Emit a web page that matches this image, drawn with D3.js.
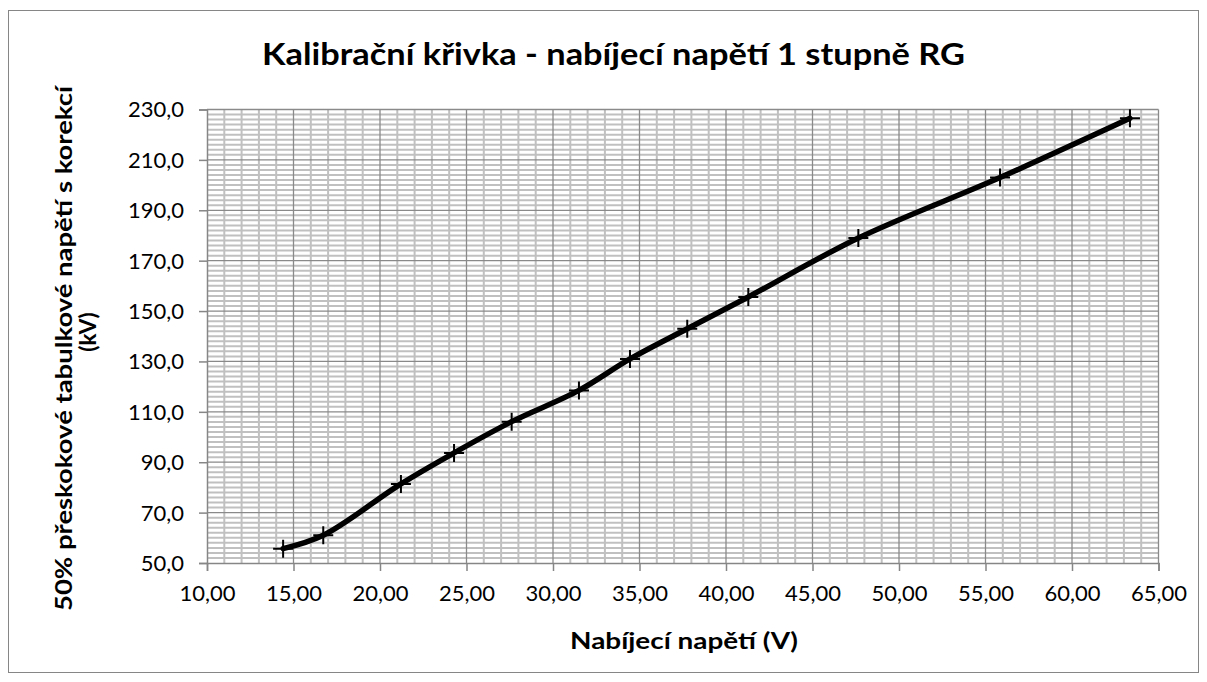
<!DOCTYPE html>
<html>
<head>
<meta charset="utf-8">
<script src="https://cdn.jsdelivr.net/npm/d3@7"></script>
<style>
  html, body { margin: 0; padding: 0; background: #fff; }
  svg { display: block; }
  text { font-family: Lato, "Open Sans", sans-serif; fill: #000; }
</style>
</head>
<body>
<script>
// Charging voltage of the 1st generator stage (V)
const chargeVoltage = [14.40, 16.72, 21.21, 24.28, 27.61, 31.50, 34.45, 37.76, 41.29, 47.65, 55.84, 63.35];
// 50% tabulated flashover voltage with correction (kV)
const flashoverKV = [55.7, 61.0, 81.4, 93.7, 106.1, 118.5, 131.0, 143.0, 155.6, 179.0, 203.0, 226.5];

const xTicks = [10, 15, 20, 25, 30, 35, 40, 45, 50, 55, 60, 65];
const yTicks = [50, 70, 90, 110, 130, 150, 170, 190, 210, 230];

const titleText = "Kalibrační křivka - nabíjecí napětí 1 stupně RG";
const xTitleText = "Nabíjecí napětí (V)";
const yTitleLines = ["50% přeskokové tabulkové napětí s korekcí", "(kV)"];

const W = 1207, H = 682;
const plot = { left: 207, right: 1158.5, top: 109.5, bottom: 563 };

const svg = d3.select("body").append("svg").attr("width", W).attr("height", H);

// outer chart frame
svg.append("rect")
  .attr("x", 8.5).attr("y", 10.5).attr("width", 1190).attr("height", 662)
  .attr("fill", "#fff").attr("stroke", "#868686").attr("stroke-width", 1);

const x = d3.scaleLinear().domain([10, 65]).range([plot.left, plot.right]);
const y = d3.scaleLinear().domain([50, 230]).range([plot.bottom, plot.top]);

const g = svg.append("g");

// minor horizontal gridlines (every 2 kV)
g.append("g").selectAll("line")
  .data(d3.range(52, 230, 2).filter(v => v % 20 !== 10))
  .join("line")
  .attr("x1", plot.left).attr("x2", plot.right)
  .attr("y1", d => y(d)).attr("y2", d => y(d))
  .attr("stroke", "#c0c0c0").attr("stroke-width", 2);

// minor vertical gridlines (every 1 V)
g.append("g").selectAll("line")
  .data(d3.range(11, 65, 1).filter(v => v % 5 !== 0))
  .join("line")
  .attr("x1", d => x(d)).attr("x2", d => x(d))
  .attr("y1", plot.top).attr("y2", plot.bottom)
  .attr("stroke", "#c0c0c0").attr("stroke-width", 2);

// major horizontal gridlines
g.append("g").selectAll("line")
  .data(yTicks.slice(1))
  .join("line")
  .attr("x1", plot.left).attr("x2", plot.right)
  .attr("y1", d => y(d)).attr("y2", d => y(d))
  .attr("stroke", "#8a8a8a").attr("stroke-width", 1.3);

// major vertical gridlines
g.append("g").selectAll("line")
  .data(xTicks.slice(1))
  .join("line")
  .attr("x1", d => x(d)).attr("x2", d => x(d))
  .attr("y1", plot.top).attr("y2", plot.bottom)
  .attr("stroke", "#8a8a8a").attr("stroke-width", 1.3);

// axes
const fmtX = d => d3.format(".2f")(d).replace(".", ",");
const fmtY = d => d3.format(".1f")(d).replace(".", ",");

const xAxis = svg.append("g")
  .attr("transform", `translate(0,${plot.bottom})`)
  .call(d3.axisBottom(x).tickValues(xTicks).tickFormat(fmtX).tickSize(8).tickPadding(10));
const yAxis = svg.append("g")
  .attr("transform", `translate(${plot.left},0)`)
  .call(d3.axisLeft(y).tickValues(yTicks).tickFormat(fmtY).tickSize(8).tickPadding(15));

[xAxis, yAxis].forEach(ax => {
  ax.select(".domain").attr("stroke", "#868686").attr("stroke-width", 1.5);
  ax.selectAll(".tick line").attr("stroke", "#868686").attr("stroke-width", 1.5);
  ax.selectAll(".tick text")
    .attr("font-family", "Lato, 'Open Sans', sans-serif")
    .attr("font-size", 22).attr("fill", "#000");
});
xAxis.selectAll(".tick text").attr("dy", "0.9em");
yAxis.selectAll(".tick text").attr("dy", "0.34em");

// calibration curve
const pts = chargeVoltage.map((v, i) => [v, flashoverKV[i]]);
const line = d3.line()
  .x(d => x(d[0])).y(d => y(d[1]))
  .curve(d3.curveCatmullRom.alpha(0.5));

svg.append("path")
  .datum(pts)
  .attr("d", line)
  .attr("fill", "none")
  .attr("stroke", "#000")
  .attr("stroke-width", 5.5)
  .attr("stroke-linejoin", "round")
  .attr("stroke-linecap", "round");

// plus markers
const mk = svg.append("g").selectAll("path")
  .data(pts)
  .join("path")
  .attr("d", d => {
    const cx = x(d[0]), cy = y(d[1]);
    return `M${cx - 10},${cy}H${cx + 10}M${cx},${cy - 9}V${cy + 9}`;
  })
  .attr("stroke", "#000")
  .attr("stroke-width", 2)
  .attr("fill", "none");

// titles
svg.append("text")
  .attr("x", 613.5).attr("y", 64.5)
  .attr("text-anchor", "middle")
  .attr("font-size", 30).attr("font-weight", "bold")
  .attr("textLength", 703).attr("lengthAdjust", "spacingAndGlyphs")
  .text(titleText);

svg.append("text")
  .attr("x", 684).attr("y", 649)
  .attr("text-anchor", "middle")
  .attr("font-size", 22.5).attr("font-weight", "bold")
  .attr("textLength", 228).attr("lengthAdjust", "spacingAndGlyphs")
  .text(xTitleText);

const yt = svg.append("g");
yt.append("text")
  .attr("transform", "translate(72,348.5) rotate(-90)")
  .attr("text-anchor", "middle")
  .attr("font-size", 22.5).attr("font-weight", "bold")
  .attr("textLength", 525).attr("lengthAdjust", "spacingAndGlyphs")
  .text(yTitleLines[0]);
yt.append("text")
  .attr("transform", "translate(96,332) rotate(-90)")
  .attr("text-anchor", "middle")
  .attr("font-size", 22.5).attr("font-weight", "bold")
  .text(yTitleLines[1]);
</script>
</body>
</html>
